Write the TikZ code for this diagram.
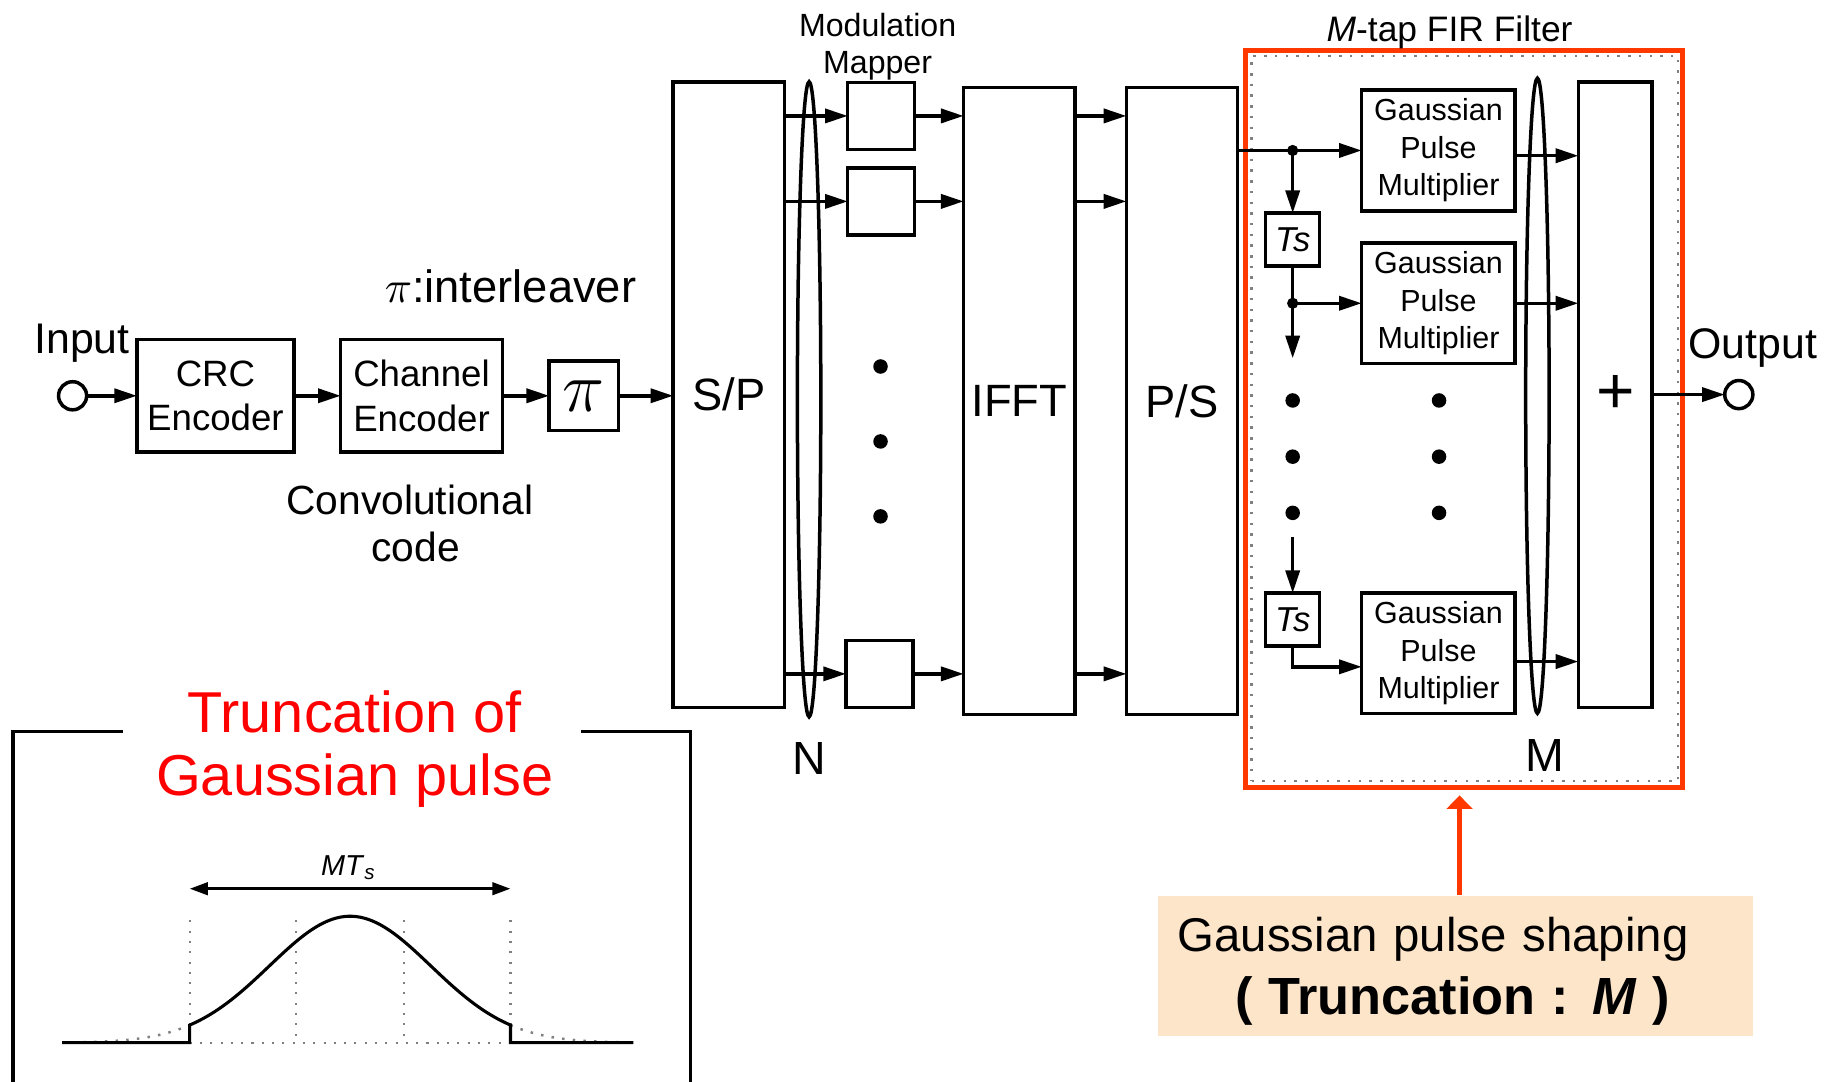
\documentclass[tikz,border=0pt]{standalone}
\usepackage{fontspec}
\setmainfont{Liberation Sans}
\usepackage{tikz}
\usetikzlibrary{arrows.meta, positioning, shapes.geometric, calc}
\definecolor{firRed}{RGB}{255,56,0}
\definecolor{titleRed}{RGB}{255,0,0}
\definecolor{notePeach}{RGB}{253,229,202}

\begin{document}
\begin{tikzpicture}[
    x=0.01cm, y=-0.01cm,
    block/.style={draw, line width=0.85pt, inner sep=0pt, outer sep=0pt, align=center,
        font=\fontsize{8.9}{10.8}\selectfont},
    gblock/.style={block, minimum width=1.31cm, minimum height=1.03cm, font=\fontsize{7.4}{9.1}\selectfont},
    tsbox/.style={block, minimum width=0.46cm, minimum height=0.45cm, font=\fontsize{8.4}{9}\selectfont\itshape},
    tallbox/.style={block, minimum width=0.95cm, minimum height=5.34cm, font=\fontsize{11}{13}\selectfont},
    mapbox/.style={block, minimum width=0.57cm, minimum height=0.57cm},
    port/.style={circle, draw, line width=0.85pt, minimum size=0.24cm, inner sep=0pt, outer sep=0pt},
    bundle/.style={ellipse, draw, line width=0.85pt, minimum width=0.2cm, minimum height=5.42cm, inner sep=0pt},
    arrow/.style={-{Triangle[length=5.5pt,width=3.4pt]}, line width=0.85pt},
    lbl/.style={inner sep=0pt, font=\fontsize{#1}{#1}\selectfont},
    lbl/.default=10,
    gridline/.style={gray, dotted, line width=0.5pt}
]
\useasboundingbox (0,0) rectangle (1568,924);

% transmitter chain
\node[port] (inport) at (62,338) {};
\node[block, minimum width=1.34cm, minimum height=0.96cm] (crc) at (184,338) {CRC\\Encoder};
\node[block, minimum width=1.38cm, minimum height=0.96cm] (chenc) at (360,338) {Channel\\Encoder};
\node[block, minimum size=0.59cm, font=\fontsize{16}{16}\selectfont] (intlv) at (498.5,338) {$\pi$};
\node[tallbox] (sp) at (622.5,337) {S/P};
\node[bundle] (nset) at (691,341) {};
\node[lbl=11.3, below=0.2cm of nset] (nlbl) {N};
\node[mapbox] (map1) at (752.5,99) {};
\node[mapbox] (map2) at (752.5,172) {};
\node[mapbox] (mapN) at (751,575.5) {};
\node[tallbox, minimum height=5.35cm] (ifft) at (870.5,342.5) {IFFT};
\node[tallbox, minimum height=5.35cm] (ps) at (1009.5,342.5) {P/S};

\node[lbl=10.4, anchor=base] (inlbl) at (70,302) {Input};
\node[lbl=11, anchor=base] (intlbl) at (436,258.5) {$\pi$:interleaver};
\node[lbl, font=\fontsize{9.9}{11.3}\selectfont, align=center] (convlbl) at (350,447) {Convolutional\\\hspace*{0.1cm}code};
\node[lbl, font=\fontsize{7.8}{9.1}\selectfont, align=center] (modlbl) at (749.5,40) {Modulation\\Mapper};

\draw[arrow] (inport.east) -- (crc.west);
\draw[arrow] (crc.east) -- (chenc.west);
\draw[arrow] (chenc.east) -- (intlv.west);
\draw[arrow] (intlv.east) -- (intlv.east -| sp.west);
\draw[arrow] (map1.west -| sp.east) -- (map1.west);
\draw[arrow] (map2.west -| sp.east) -- (map2.west);
\draw[arrow] (mapN.west -| sp.east) -- (mapN.west);
\draw[arrow] (map1.east) -- (map1.east -| ifft.west);
\draw[arrow] (map2.east) -- (map2.east -| ifft.west);
\draw[arrow] (mapN.east) -- (mapN.east -| ifft.west);
\draw[arrow] (map1.east -| ifft.east) -- (map1.east -| ps.west);
\draw[arrow] (map2.east -| ifft.east) -- (map2.east -| ps.west);
\draw[arrow] (mapN.east -| ifft.east) -- (mapN.east -| ps.west);
\fill (752,313) circle[radius=0.062cm];
\fill (752,377) circle[radius=0.062cm];
\fill (752,441) circle[radius=0.062cm];

% M-tap FIR filter
\node[draw=firRed, line width=1.2pt, minimum width=3.73cm, minimum height=6.285cm, inner sep=0pt] (firbox) at (1250.5,357.75) {};
\node[draw=gray, dotted, line width=0.6pt, minimum width=3.64cm, minimum height=6.19cm, inner sep=0pt] (firin) at (1251,357.5) {};
\node[lbl=8.6, anchor=base] (firlbl) at (1238,35.6) {\textit{M}-tap FIR Filter};
\node[gblock] (gpm1) at (1228.5,128.5) {Gaussian\\Pulse\\Multiplier};
\node[gblock] (gpm2) at (1228.5,259) {Gaussian\\Pulse\\Multiplier};
\node[gblock] (gpmM) at (1228.5,558) {Gaussian\\Pulse\\Multiplier};
\node[tsbox] (ts1) at (1104,204.5) {Ts};
\node[tsbox] (ts2) at (1104,529) {Ts};
\node[bundle] (mset) at (1313,338) {};
\node[lbl=11.3, below=0.2cm of mset, xshift=0.065cm] (mlbl) {M};
\node[tallbox, minimum width=0.63cm, minimum height=5.34cm, font=\fontsize{16}{16}\selectfont] (adder) at (1379.5,337) {+};
\node[port] (outport) at (1485,337) {};
\node[lbl=10.4, anchor=base] (outlbl) at (1497,306) {Output};

\coordinate (tap1) at (gpm1.west -| ts1.north);
\coordinate (tap2) at (gpm2.west -| ts1.south);
\coordinate (tapdn) at (1104,306);
\coordinate (tapup) at (1104,459);
\draw[arrow] (gpm1.west -| ps.east) -- (gpm1.west);
\draw[arrow] (tap1) -- (ts1.north);
\draw[line width=0.85pt] (ts1.south) -- (tap2);
\draw[arrow] (tap2) -- (gpm2.west);
\draw[arrow] (tap2) -- (tapdn);
\fill (tap1) circle[radius=0.048cm];
\fill (tap2) circle[radius=0.048cm];
\fill (1104,342) circle[radius=0.062cm];
\fill (1104,390) circle[radius=0.062cm];
\fill (1104,438) circle[radius=0.062cm];
\fill (1229,342) circle[radius=0.062cm];
\fill (1229,390) circle[radius=0.062cm];
\fill (1229,438) circle[radius=0.062cm];
\draw[arrow] (tapup) -- (ts2.north);
\draw[arrow] (ts2.south) |- ($(gpmM.west)+(0,11.5)$);
\draw[arrow] ($(gpm1.east)+(0,4.5)$) -- ($(gpm1.east -| adder.west)+(0,4.5)$);
\draw[arrow] (gpm2.east) -- (gpm2.east -| adder.west);
\draw[arrow] ($(gpmM.east)+(0,7)$) -- ($(gpmM.east -| adder.west)+(0,7)$);
\draw[arrow] (adder.east) -- (outport.west);

% annotation
\node[fill=notePeach, minimum width=5.08cm, minimum height=1.2cm, inner sep=0pt, text width=4.74cm,
      align=left, font=\fontsize{11.5}{15.3}\selectfont] (note) at (1243,825)
      {\rule{0pt}{0.38cm}Gaussian pulse shaping\\\hspace*{0.49cm}{\fontsize{12.7}{15.3}\selectfont\bfseries ( Truncation : \textit{M} )}};
\draw[-{Triangle[length=3.3pt,width=6.2pt]}, firRed, line width=1.05pt] ($(note.north)+(3.5,0)$) -- ($(firbox.south)+(-4,5)$);

% truncated pulse panel
\draw[line width=0.8pt] (105,625) -- (11,625) -- (11,924);
\draw[line width=0.8pt] (496,625) -- (590,625) -- (590,924);
\node[text=titleRed, font=\fontsize{14}{15.3}\selectfont, align=center, inner sep=0pt] (trunclbl) at (303,640) {Truncation of\\Gaussian pulse};
\draw[gridline] (162,786) -- (162,890.5);
\draw[gridline] (253,786) -- (253,890.5);
\draw[gridline] (345,786) -- (345,890.5);
\draw[gridline] (436,786) -- (436,890.5);
\draw[gridline] (162,890.5) -- (436,890.5);
\draw[gridline, line width=0.6pt] plot[domain=53:162, samples=30] (\x,{890.5-108*exp(-0.5*((\x-299)/69)^2)});
\draw[gridline, line width=0.6pt] plot[domain=436:541, samples=30] (\x,{890.5-108*exp(-0.5*((\x-299)/69)^2)});
\draw[line width=0.75pt] (53,890.5) -- (162,890.5) -- plot[domain=162:436, samples=80] (\x,{890.5-108*exp(-0.5*((\x-299)/69)^2)}) -- (436,890.5) -- (541,890.5);
\coordinate (mtl) at (162,759);
\coordinate (mtr) at (436,759);
\draw[{Triangle[length=4.4pt,width=3pt]}-{Triangle[length=4.4pt,width=3pt]}, line width=0.75pt] (mtl) -- (mtr);
\node[lbl=7, anchor=base] (mtlbl) at (298,748) {\textit{MT}\textsubscript{\textit{s}}};
\end{tikzpicture}
\end{document}
